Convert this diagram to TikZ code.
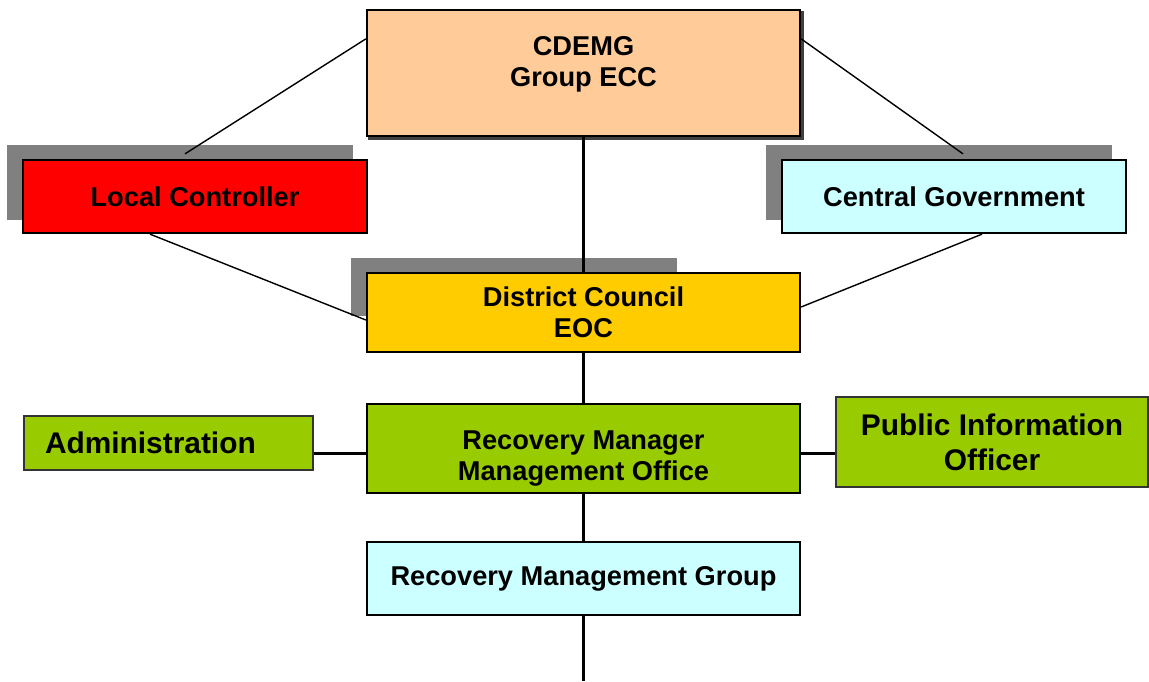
\documentclass[tikz,border=0pt]{standalone}
\usepackage{fontspec}
\setmainfont{Liberation Sans}
\usetikzlibrary{positioning}
\pgfdeclarelayer{shadowlayer}
\pgfdeclarelayer{lines}
\pgfsetlayers{shadowlayer,lines,main}

\definecolor{peach}{HTML}{FFCC99}
\definecolor{cyanbox}{HTML}{CCFFFF}
\definecolor{gold}{HTML}{FFCC00}
\definecolor{leaf}{HTML}{99CC00}
\definecolor{shadowgrey}{HTML}{808080}

\begin{document}
\begin{tikzpicture}
    \useasboundingbox (0,0) rectangle (22.98,-13.62);

    % Define styles
    \tikzstyle{unit}=[rectangle, draw=black, line width=1.3pt, align=center, inner sep=0pt, font=\fontsize{15.5}{17.6}\selectfont\bfseries]
    \tikzstyle{side}=[rectangle, draw=black!80, line width=0.8pt, fill=leaf, align=center, inner sep=0pt, font=\fontsize{17}{19.8}\selectfont\bfseries]
    \tikzstyle{link}=[black, line width=0.8pt]
    \tikzstyle{stem}=[black, line width=1.4pt]

    \node[unit, fill=peach, minimum width=8.66cm, minimum height=2.52cm, text depth=0.47cm] (CDEMG) at (11.67,-1.46) {CDEMG\\Group ECC};
    \node[unit, fill=red, minimum width=6.88cm, minimum height=1.46cm] (LC) at (3.90,-3.93) {Local Controller};
    \node[unit, fill=cyanbox, minimum width=6.88cm, minimum height=1.46cm] (CG) at (19.08,-3.93) {Central Government};
    \node[unit, fill=gold, minimum width=8.66cm, minimum height=1.58cm] (DC) at (11.67,-6.25) {District Council\\EOC};
    \node[unit, fill=leaf, minimum width=8.66cm, minimum height=1.78cm, text height=1.4cm] (RM) at (11.67,-8.97) {Recovery Manager\\Management Office};
    \node[side, minimum width=5.78cm, minimum height=1.08cm, text width=4.94cm, align=left] (ADM) at (3.37,-8.86) {Administration};
    \node[side, minimum width=6.24cm, minimum height=1.80cm] (PIO) at (19.84,-8.84) {Public Information\\Officer};
    \node[unit, fill=cyanbox, minimum width=8.66cm, minimum height=1.46cm] (RMG) at (11.67,-11.57) {Recovery Management Group};
    \coordinate (end) at (11.67,-13.62);

    % shadows
    \begin{pgfonlayer}{shadowlayer}
        \fill[black!75] ([shift={(0.05,-0.05)}]CDEMG.south west) rectangle ([shift={(0.05,-0.05)}]CDEMG.north east);
        \fill[shadowgrey] ([shift={(-0.3,0.28)}]LC.south west) rectangle ([shift={(-0.3,0.28)}]LC.north east);
        \fill[shadowgrey] ([shift={(-0.3,0.28)}]CG.south west) rectangle ([shift={(-0.3,0.28)}]CG.north east);
        \fill[shadowgrey] ([shift={(-0.3,0.28)}]DC.north west) rectangle ++(6.52,-1.16);
    \end{pgfonlayer}

    % connectors
    \begin{pgfonlayer}{lines}
        \draw[link] ([yshift=-0.6cm]CDEMG.north west) -- ([shift={(-0.2,0.1)}]LC.north);
        \draw[link] ([yshift=-0.6cm]CDEMG.north east) -- ([shift={(0.18,0.1)}]CG.north);
        \draw[stem] (CDEMG.south) -- (DC.north);
        \draw[link] ([xshift=-0.9cm]LC.south) -- ([yshift=-0.15cm]DC.west);
        \draw[link] ([xshift=0.56cm]CG.south) -- ([yshift=0.11cm]DC.east);
        \draw[stem] (DC.south) -- (RM.north);
        \draw[stem] ([yshift=-0.1cm]RM.west) -- ([yshift=-0.1cm]RM.west -| ADM.east);
        \draw[stem] ([yshift=-0.1cm]RM.east) -- ([yshift=-0.1cm]RM.east -| PIO.west);
        \draw[stem] (RM.south) -- (RMG.north);
        \draw[stem] (RMG.south) -- (end);
    \end{pgfonlayer}
\end{tikzpicture}
\end{document}
